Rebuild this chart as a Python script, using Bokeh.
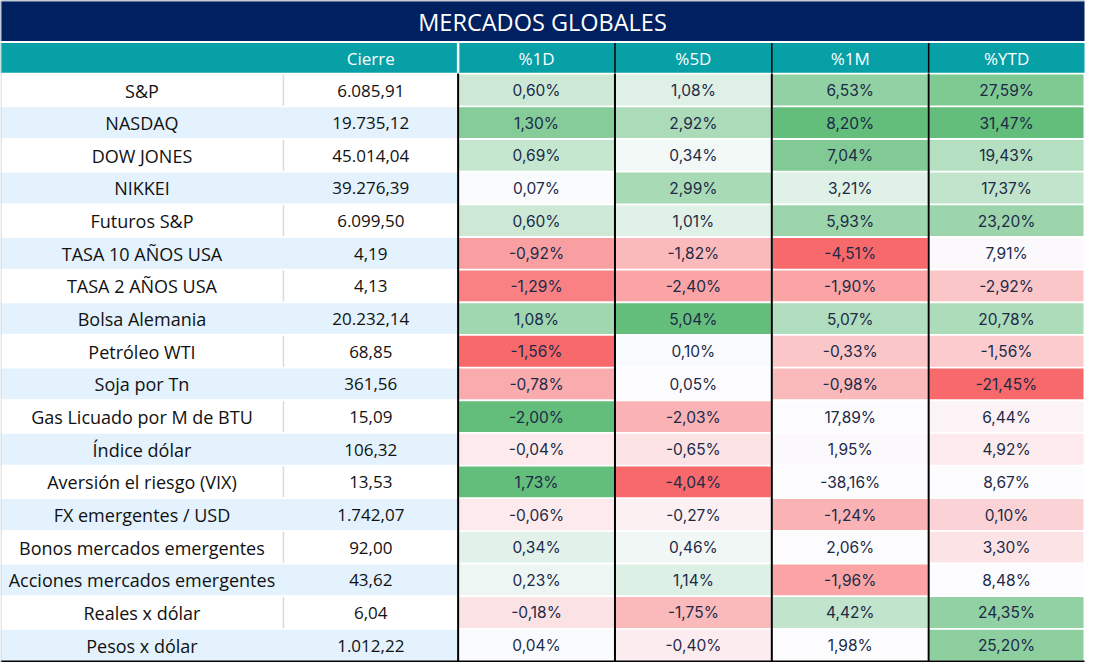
from bokeh.plotting import figure
from bokeh.models import Range1d
from bokeh.embed import file_html
from bokeh.resources import INLINE
from bokeh.core.properties import value

# ---------------- data ----------------
title_text = "MERCADOS GLOBALES"
header_labels = ["", "Cierre", "%1D", "%5D", "%1M", "%YTD"]

names = ["S&P", "NASDAQ", "DOW JONES", "NIKKEI", "Futuros S&P", "TASA 10 AÑOS USA",
         "TASA 2 AÑOS USA", "Bolsa Alemania", "Petróleo WTI", "Soja por Tn",
         "Gas Licuado por M de BTU", "Índice dólar", "Aversión el riesgo (VIX)",
         "FX emergentes / USD", "Bonos mercados emergentes", "Acciones mercados emergentes",
         "Reales x dólar", "Pesos x dólar"]

cierre = [6085.91, 19735.12, 45014.04, 39276.39, 6099.50, 4.19, 4.13, 20232.14, 68.85,
          361.56, 15.09, 106.32, 13.53, 1742.07, 92.00, 43.62, 6.04, 1012.22]

pct_1d = [0.60, 1.30, 0.69, 0.07, 0.60, -0.92, -1.29, 1.08, -1.56, -0.78, -2.00, -0.04,
          1.73, -0.06, 0.34, 0.23, -0.18, 0.04]
pct_5d = [1.08, 2.92, 0.34, 2.99, 1.01, -1.82, -2.40, 5.04, 0.10, 0.05, -2.03, -0.65,
          -4.04, -0.27, 0.46, 1.14, -1.75, -0.40]
pct_1m = [6.53, 8.20, 7.04, 3.21, 5.93, -4.51, -1.90, 5.07, -0.33, -0.98, 17.89, 1.95,
          -38.16, -1.24, 2.06, -1.96, 4.42, 1.98]
pct_ytd = [27.59, 31.47, 19.43, 17.37, 23.20, 7.91, -2.92, 20.78, -1.56, -21.45, 6.44, 4.92,
           8.67, 0.10, 3.30, 8.48, 24.35, 25.20]

# heat-map tone of each cell (-1 red ... 0 white ... +1 green)
tone_1d = [0.31, 0.78, 0.36, 0.02, 0.31, -0.63, -0.84, 0.60, -1.0, -0.55, 1.0, -0.12,
           1.0, -0.12, 0.17, 0.09, -0.18, 0.01]
tone_5d = [0.19, 0.53, 0.07, 0.55, 0.18, -0.45, -0.60, 1.0, 0.01, 0.0, -0.50, -0.17,
           -1.0, -0.08, 0.08, 0.20, -0.45, -0.11]
tone_1m = [0.70, 1.0, 0.80, 0.18, 0.63, -1.0, -0.60, 0.50, -0.37, -0.45, 0.0, -0.02,
           0.0, -0.50, 0.0, -0.60, 0.39, 0.0]
tone_ytd = [0.82, 1.0, 0.47, 0.38, 0.63, -0.02, -0.37, 0.52, -0.33, -1.0, -0.06, -0.12,
            0.0, -0.28, -0.17, 0.0, 0.70, 0.72]

pct_cols = [pct_1d, pct_5d, pct_1m, pct_ytd]
tone_cols = [tone_1d, tone_5d, tone_1m, tone_ytd]

# ---------------- helpers ----------------
RED = (248, 105, 107)
WHITE = (252, 252, 255)
GREEN = (99, 190, 123)


def tone_color(t):
    end = GREEN if t >= 0 else RED
    a = min(abs(t), 1.0)
    r, g, b = (round(WHITE[k] + (end[k] - WHITE[k]) * a) for k in range(3))
    return "#%02x%02x%02x" % (r, g, b)


def es_number(v):
    s = f"{v:,.2f}"
    return s.replace(",", "X").replace(".", ",").replace("X", ".")


def es_pct(v):
    return f"{v:.2f}".replace(".", ",") + "%"


# ---------------- layout (page-pixel frame of the table) ----------------
col_edges = [0, 285, 461, 619, 777, 935, 1092]
title_top, title_bot = 0, 41
head_top, head_bot = 43, 73
row_top0, pitch, row_h = 75, 33.05, 31.2
n = len(names)

NAVY = "#002060"
TEAL = "#06a0a6"
BLUE_ROW = "#e3f2fd"

p = figure(width=1086, height=662, x_range=Range1d(0, 1094), y_range=Range1d(670, 0),
           output_backend="svg", toolbar_location=None, min_border=0,
           x_axis_location=None, y_axis_location=None)
p.grid.visible = False
p.outline_line_color = None
p.background_fill_color = "white"
p.border_fill_color = "white"

# title bar and header bar
p.quad(left=[0], right=[col_edges[-1]], top=[title_top], bottom=[title_bot],
       fill_color=NAVY, line_color=None)
p.quad(left=[0], right=[col_edges[-1]], top=[head_top], bottom=[head_bot],
       fill_color=TEAL, line_color=None)

# row backgrounds for name / cierre columns
tops = [row_top0 + i * pitch for i in range(n)]
bots = [t + row_h for t in tops]
p.quad(left=[0] * n, right=[col_edges[2] - 1] * n, top=tops, bottom=bots,
       fill_color=[BLUE_ROW if i % 2 else "white" for i in range(n)], line_color=None)
# light separator between name and cierre (visible on white rows)
white_rows = [i for i in range(n) if i % 2 == 0]
p.segment(x0=[col_edges[1]] * len(white_rows), x1=[col_edges[1]] * len(white_rows),
          y0=[tops[i] for i in white_rows], y1=[bots[i] for i in white_rows],
          line_color="#d9d9d9", line_width=1.5)

# heat-map cells
L, R, T, B, C = [], [], [], [], []
for j, tones in enumerate(tone_cols):
    for i in range(n):
        L.append(col_edges[j + 2] + 1)
        R.append(col_edges[j + 3] - 1)
        T.append(tops[i])
        B.append(bots[i])
        C.append(tone_color(tones[i]))
p.quad(left=L, right=R, top=T, bottom=B, fill_color=C, line_color=None)

# black vertical rules in the percentage block
xs = col_edges[2:6]
p.segment(x0=xs, x1=xs, y0=[row_top0 - 1] * 4, y1=[bots[-1] + 1] * 4,
          line_color="black", line_width=2)
p.segment(x0=xs[1:], x1=xs[1:], y0=[head_top] * 3, y1=[head_bot] * 3,
          line_color="black", line_width=1.5)
# white gap in header between Cierre and %1D
p.segment(x0=[xs[0]], x1=[xs[0]], y0=[head_top], y1=[head_bot],
          line_color="white", line_width=2.5)
# bottom black rule
p.segment(x0=[0], x1=[col_edges[-1]], y0=[bots[-1] + 1.2], y1=[bots[-1] + 1.2],
          line_color="black", line_width=2.5)
# thin outer frame
p.segment(x0=[0.5, 0], x1=[0.5, 1094], y0=[0, 0.5], y1=[670, 0.5],
          line_color="#d0d0d0", line_width=1)

# ---------------- texts ----------------
centers = [(col_edges[k] + col_edges[k + 1]) / 2 for k in range(6)]
p.text(x=[col_edges[-1] / 2], y=[(title_top + title_bot) / 2 + 1], text=[title_text],
       text_align="center", text_baseline="middle", text_color="white",
       text_font=value("Open Sans"), text_font_size="23.5px")
p.text(x=centers[1:], y=[(head_top + head_bot) / 2 + 1] * 5, text=header_labels[1:],
       text_align="center", text_baseline="middle", text_color="white",
       text_font=value("Open Sans"), text_font_size="17px")

mids = [(t + b) / 2 + 0.5 for t, b in zip(tops, bots)]
p.text(x=[centers[0]] * n, y=mids, text=names, text_align="center", text_baseline="middle",
       text_color="#111111", text_font=value("Open Sans"), text_font_size="18px")
p.text(x=[centers[1]] * n, y=mids, text=[es_number(v) for v in cierre],
       text_align="center", text_baseline="middle", text_color="#111111",
       text_font=value("Open Sans"), text_font_size="17px")

src_x, src_y, src_t = [], [], []
for j, vals in enumerate(pct_cols):
    for i in range(n):
        src_x.append(centers[j + 2])
        src_y.append(mids[i])
        src_t.append(es_pct(vals[i]))
p.text(x=src_x, y=src_y, text=src_t, text_align="center", text_baseline="middle",
       text_color="#1c2a48", text_font=value("Inter"), text_font_size="15.5px")

open("out.html", "w").write(file_html(p, INLINE))
